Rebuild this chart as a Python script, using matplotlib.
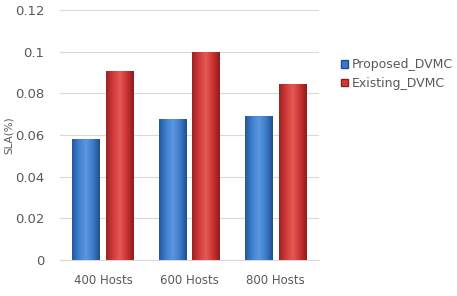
import numpy as np
import matplotlib
matplotlib.use("Agg")
import matplotlib.pyplot as plt
from matplotlib.patches import Patch
from matplotlib.colors import LinearSegmentedColormap

categories = ["400 Hosts", "600 Hosts", "800 Hosts"]
proposed = [0.058, 0.0675, 0.0693]
existing = [0.0905, 0.1, 0.0843]
series_names = ["Proposed_DVMC", "Existing_DVMC"]

blue_cmap = LinearSegmentedColormap.from_list(
    "b", ["#23589c", "#3f80d0", "#5b97df", "#3f7cc8", "#1f4f8f"])
red_cmap = LinearSegmentedColormap.from_list(
    "r", ["#9c2222", "#d23b3b", "#e45a55", "#cc3434", "#8e1c1c"])

fig = plt.figure(figsize=(4.57, 2.96), dpi=100)
ax = fig.add_axes([0.131, 0.1216, 0.567, 0.8446])

x = np.arange(len(categories))
w = 0.32
gap = 0.035
grad = np.linspace(0, 1, 64).reshape(1, -1)

for vals, off, cmap, base in [(proposed, -(w / 2 + gap), blue_cmap, "#3a78c9"),
                              (existing, (w / 2 + gap), red_cmap, "#d23a3a")]:
    bars = ax.bar(x + off, vals, width=w, color=base, zorder=2, linewidth=0)
    for b in bars:
        x0 = b.get_x()
        im = ax.imshow(grad, cmap=cmap, aspect="auto", zorder=3,
                       extent=[x0, x0 + b.get_width(), 0, b.get_height()])
        im.set_clip_path(b)

ax.set_xlim(-0.5, 2.5)
ax.set_ylim(0, 0.12)
ax.set_yticks([0, 0.02, 0.04, 0.06, 0.08, 0.1, 0.12])
ax.set_yticklabels(["0", "0.02", "0.04", "0.06", "0.08", "0.1", "0.12"])
ax.set_xticks(x)
ax.set_xticklabels(categories)
ax.yaxis.grid(True, color="#d9d9d9", linewidth=0.8, zorder=0)
ax.set_axisbelow(True)
for s in ax.spines.values():
    s.set_visible(False)
ax.spines["bottom"].set_visible(True)
ax.spines["bottom"].set_color("#d9d9d9")
ax.tick_params(length=0, colors="#595959")
ax.tick_params(axis="y", pad=11, labelsize=9.5)
ax.tick_params(axis="x", pad=10, labelsize=8.5)
ax.set_ylabel("SLA(%)", color="#595959", fontsize=7.5, labelpad=1)

handles = [Patch(facecolor="#3a78c9", edgecolor="#1f4f8f"),
           Patch(facecolor="#d23a3a", edgecolor="#8e1c1c")]
fig.legend(handles, series_names, loc="upper left", bbox_to_anchor=(0.735, 0.82),
           frameon=False, fontsize=9, labelcolor="#595959",
           handlelength=0.6, handleheight=0.6, handletextpad=0.3,
           labelspacing=0.45, borderaxespad=0)

fig.savefig("out.png", dpi=100)
